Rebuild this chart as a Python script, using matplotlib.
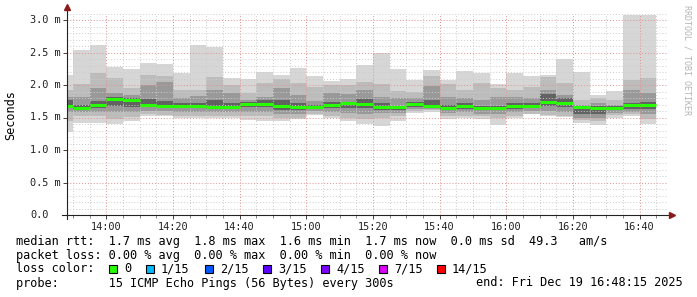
import matplotlib

matplotlib.use("Agg")
import matplotlib.pyplot as plt
import pandas as pd
from matplotlib.patches import Rectangle
from matplotlib.transforms import blended_transform_factory

W, H = 697, 297
MONO = "DejaVu Sans Mono"

# 5-minute smokeping slots, rtt values in ms
slots = pd.date_range("2025-12-19 13:45", periods=36, freq="5min")
rtt_max = [2.15, 2.54, 2.62, 2.28, 2.25, 2.34, 2.32, 2.19, 2.61, 2.59, 2.11, 2.10,
           2.20, 2.15, 2.26, 2.14, 2.06, 2.10, 2.31, 2.49, 2.24, 2.08, 2.23, 2.07,
           2.22, 2.18, 2.02, 2.18, 2.14, 2.15, 2.40, 2.20, 1.85, 1.91, 3.08, 3.08]
rtt_min = [1.27, 1.42, 1.42, 1.40, 1.45, 1.52, 1.52, 1.49, 1.50, 1.50, 1.50, 1.46,
           1.44, 1.44, 1.47, 1.54, 1.50, 1.44, 1.40, 1.37, 1.45, 1.57, 1.59, 1.48,
           1.50, 1.48, 1.38, 1.50, 1.55, 1.53, 1.51, 1.42, 1.39, 1.50, 1.52, 1.40]
rtt_median = [1.68, 1.64, 1.70, 1.79, 1.77, 1.70, 1.68, 1.67, 1.68, 1.66, 1.66, 1.71,
              1.71, 1.68, 1.66, 1.66, 1.70, 1.72, 1.71, 1.66, 1.66, 1.71, 1.68, 1.64,
              1.68, 1.65, 1.64, 1.67, 1.67, 1.74, 1.73, 1.66, 1.64, 1.64, 1.69, 1.69]
# smoke bands, outer to inner
band1_lo = [1.45, 1.52, 1.52, 1.47, 1.51, 1.55, 1.54, 1.53, 1.52, 1.53, 1.53, 1.52,
            1.52, 1.50, 1.50, 1.56, 1.53, 1.50, 1.48, 1.50, 1.52, 1.60, 1.61, 1.52,
            1.53, 1.52, 1.49, 1.52, 1.55, 1.54, 1.53, 1.46, 1.45, 1.54, 1.56, 1.47]
band1_hi = [1.92, 2.02, 2.18, 2.10, 1.96, 2.16, 2.14, 1.92, 1.93, 2.13, 2.00, 1.88,
            2.03, 2.10, 2.03, 1.97, 2.00, 2.00, 2.04, 2.02, 1.91, 1.90, 2.14, 2.02,
            1.92, 2.03, 1.95, 1.92, 1.97, 2.13, 2.03, 1.77, 1.80, 1.77, 2.08, 2.10]
band2_lo = [1.58, 1.58, 1.58, 1.58, 1.58, 1.60, 1.60, 1.58, 1.58, 1.58, 1.58, 1.58,
            1.58, 1.56, 1.56, 1.60, 1.58, 1.57, 1.56, 1.57, 1.57, 1.63, 1.63, 1.57,
            1.58, 1.56, 1.56, 1.58, 1.60, 1.60, 1.58, 1.50, 1.49, 1.57, 1.59, 1.56]
band2_hi = [1.82, 1.82, 1.95, 1.88, 1.84, 2.00, 2.05, 1.80, 1.83, 1.92, 1.87, 1.77,
            1.82, 1.95, 1.85, 1.75, 1.87, 1.86, 1.92, 1.82, 1.80, 1.80, 1.98, 1.82,
            1.80, 1.77, 1.82, 1.82, 1.80, 1.92, 1.85, 1.70, 1.72, 1.70, 1.92, 1.87]
band3_lo = [1.64, 1.62, 1.64, 1.68, 1.66, 1.66, 1.64, 1.64, 1.64, 1.63, 1.63, 1.66,
            1.66, 1.62, 1.62, 1.63, 1.64, 1.64, 1.64, 1.62, 1.62, 1.66, 1.65, 1.61,
            1.63, 1.62, 1.61, 1.63, 1.64, 1.67, 1.66, 1.56, 1.55, 1.61, 1.63, 1.63]
band3_hi = [1.77, 1.70, 1.75, 1.82, 1.80, 1.78, 1.75, 1.72, 1.72, 1.77, 1.73, 1.74,
            1.77, 1.77, 1.72, 1.70, 1.74, 1.74, 1.79, 1.72, 1.68, 1.74, 1.77, 1.70,
            1.72, 1.68, 1.68, 1.72, 1.72, 1.86, 1.80, 1.67, 1.67, 1.67, 1.72, 1.74]

ytick_vals = [0.0, 0.5, 1.0, 1.5, 2.0, 2.5, 3.0]
ytick_labels = ["0.0", "0.5 m", "1.0 m", "1.5 m", "2.0 m", "2.5 m", "3.0 m"]
xtick_labels = ["14:00", "14:20", "14:40", "15:00", "15:20", "15:40", "16:00", "16:20", "16:40"]

loss_labels = ["0", "1/15", "2/15", "3/15", "4/15", "7/15", "14/15"]
loss_colors = ["#26ff00", "#00b8ff", "#0059ff", "#5e00ff", "#7e00ff", "#dd00ff", "#ff0000"]

stats_lines = [
    "median rtt:  1.7 ms avg  1.8 ms max  1.6 ms min  1.7 ms now  0.0 ms sd  49.3   am/s",
    "packet loss: 0.00 % avg  0.00 % max  0.00 % min  0.00 % now",
]
probe_text = "probe:       15 ICMP Echo Pings (56 Bytes) every 300s"
end_text = "end: Fri Dec 19 16:48:15 2025"


def minutes(t):
    h, m = t.split(":")
    return int(h) * 60 + int(m)


x = slots.hour * 60 + slots.minute
x0 = 13 * 60 + 48.25
x1 = x0 + 180
ytop = 3.1

fig = plt.figure(figsize=(W / 100, H / 100), dpi=100)
ax = fig.add_axes([67 / W, 82 / H, 600 / W, ytop * 65 / H])
ax.set_xlim(x0, x1)
ax.set_ylim(0, ytop)
for s in ax.spines.values():
    s.set_visible(False)

# smoke
layers = [(rtt_min, rtt_max, "#d6d6d6"), (band1_lo, band1_hi, "#bcbcbc"),
          (band2_lo, band2_hi, "#999999"), (band3_lo, band3_hi, "#626262")]
for lo, hi, col in layers:
    ax.bar(x, [h - l for l, h in zip(lo, hi)], bottom=lo, width=5, align="edge",
           color=col, linewidth=0, zorder=1)
ax.hlines(rtt_median, x, x + 5, color="#26ff00", lw=2.2, zorder=4)

# grid drawn over the smoke, rrdtool style
dots = (0, (1, 2))
major_x = [minutes(t) for t in xtick_labels]
for m in range(13 * 60 + 50, int(x1) + 1, 5):
    if m in major_x:
        ax.axvline(m, color="#e09090", lw=0.7, ls=dots, zorder=3)
    else:
        ax.axvline(m, color="#cccccc", lw=0.7, ls=dots, zorder=3)
for i in range(1, 32):
    v = i / 10
    if i % 5 == 0:
        ax.axhline(v, color="#e09090", lw=0.7, ls=dots, zorder=3)
    else:
        ax.axhline(v, color="#cccccc", lw=0.7, ls=dots, zorder=3)

# ticks
ax.set_xticks(major_x, xtick_labels, fontfamily=MONO, fontsize=7.35)
ax.set_xticks(range(13 * 60 + 50, int(x1) + 1, 5), minor=True)
ax.set_yticks(ytick_vals, [])
ax.tick_params(axis="x", which="major", length=3, width=0.6, pad=2, colors="#222222")
ax.tick_params(axis="x", which="minor", length=2, width=0.5, colors="#555555")
ax.tick_params(axis="y", which="major", length=3, width=0.6, colors="#222222")
tr = blended_transform_factory(fig.transFigure, ax.transData)
for v, lab in zip(ytick_vals, ytick_labels):
    fig.text(30 / W, v, lab, transform=tr, ha="left", va="center",
             fontfamily=MONO, fontsize=7.35, color="#222222")

# axes with arrows
ax.plot([-5 / 600, 1.008], [0, 0], transform=ax.transAxes, color="#222222", lw=0.8,
        clip_on=False, zorder=5)
ax.plot([1.008], [0], transform=ax.transAxes, marker=">", ms=4, color="#8b1a1a",
        clip_on=False, zorder=6)
ax.plot([0, 0], [-4 / 201.5, 1.03], transform=ax.transAxes, color="#222222", lw=0.8,
        clip_on=False, zorder=5)
ax.plot([0], [1.03], transform=ax.transAxes, marker="^", ms=4, color="#8b1a1a",
        clip_on=False, zorder=6)

fig.text(11 / W, 1 - 115 / H, "Seconds", rotation=90, ha="center", va="center",
         fontfamily=MONO, fontsize=8.55)
fig.text(687 / W, 1 - 5 / H, "RRDTOOL / TOBI OETIKER", rotation=270, ha="center",
         va="top", fontfamily=MONO, fontsize=6, color="#b4b4b4")

# legend block
for i, line in enumerate(stats_lines):
    fig.text(16 / W, 1 - (241 + 14 * i) / H, line, ha="left", va="center",
             fontfamily=MONO, fontsize=8.55)
fig.text(16 / W, 1 - 269 / H, "loss color:", ha="left", va="center",
         fontfamily=MONO, fontsize=8.55)
box_x = [109, 146, 205, 263, 321, 379, 437]
for bx, lab, col in zip(box_x, loss_labels, loss_colors):
    fig.add_artist(Rectangle((bx / W, 1 - 273 / H), 8 / W, 8 / H, facecolor=col,
                             edgecolor="black", lw=0.8, transform=fig.transFigure))
    fig.text((bx + 15) / W, 1 - 269 / H, lab, ha="left", va="center",
             fontfamily=MONO, fontsize=8.55)
fig.text(16 / W, 1 - 283 / H, probe_text, ha="left", va="center",
         fontfamily=MONO, fontsize=8.55)
fig.text(683 / W, 1 - 283 / H, end_text, ha="right", va="center",
         fontfamily=MONO, fontsize=8.55)

fig.savefig("out.png", dpi=100, facecolor="white")
